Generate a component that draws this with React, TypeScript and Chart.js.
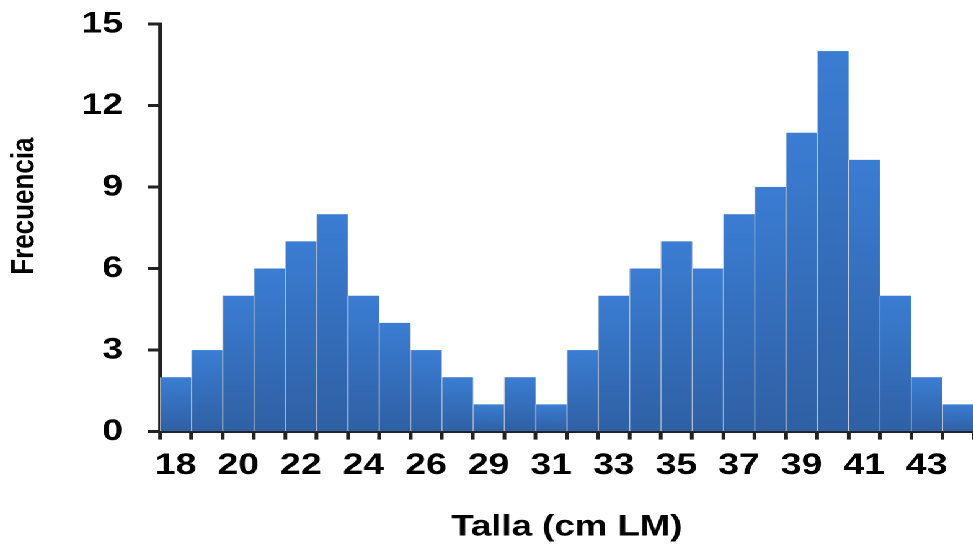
import React, { useEffect, useRef } from "react";
import { Chart, registerables } from "chart.js";

Chart.register(...registerables);

const categories = ["18","19","20","21","22","23","24","25","26","27","29","30","31","32","33","34","35","36","37","38","39","40","41","42","43","44"];
const frequencies = [2,3,5,6,7,8,5,4,3,2,1,2,1,3,5,6,7,6,8,9,11,14,10,5,2,1];
const yTicks = [0, 3, 6, 9, 12, 15];
const xTitle = "Talla (cm LM)";
const yTitle = "Frecuencia";

const STRETCH = 1.24;
const LOGICAL_W = 973 / STRETCH;
const FONT = "'Liberation Sans', Arial, sans-serif";

export default function App() {
  const ref = useRef<HTMLCanvasElement | null>(null);

  useEffect(() => {
    if (!ref.current) return;
    const shadowPlugin = {
      id: "barShadow",
      beforeDatasetsDraw(chart: any) {
        const ctx = chart.ctx;
        ctx.save();
        ctx.shadowColor = "rgba(0,0,0,0.22)";
        ctx.shadowBlur = 6;
        ctx.shadowOffsetX = 2;
        ctx.shadowOffsetY = 0;
      },
      afterDatasetsDraw(chart: any) {
        chart.ctx.restore();
      },
    };
    const chart = new Chart(ref.current, {
      type: "bar",
      data: {
        labels: categories,
        datasets: [
          {
            data: frequencies,
            backgroundColor: (c: any) => {
              const ch = c.chart;
              const area = ch.chartArea;
              if (!area || c.type !== "data") return "#3672c2";
              const y = ch.scales.y;
              const top = y.getPixelForValue(c.parsed.y);
              const bottom = y.getPixelForValue(0);
              if (!isFinite(top) || !isFinite(bottom) || bottom - top < 1) return "#3672c2";
              const g = ch.ctx.createLinearGradient(0, top, 0, bottom);
              g.addColorStop(0, "#3b7dd3");
              g.addColorStop(1, "#2f60a4");
              return g;
            },
            borderColor: "#d4d8de",
            borderWidth: { left: 0.8, right: 0, top: 0, bottom: 0 },
            borderSkipped: false,
            barPercentage: 1,
            categoryPercentage: 1,
          },
        ],
      },
      options: {
        animation: false,
        responsive: true,
        maintainAspectRatio: false,
        devicePixelRatio: 2,
        layout: { padding: { top: 0, right: 0, bottom: 0, left: 0 } },
        plugins: { legend: { display: false }, tooltip: { enabled: false } },
        scales: {
          x: {
            grid: {
              drawOnChartArea: false,
              drawTicks: true,
              tickLength: 8,
              tickWidth: 3,
              tickColor: "#222",
            },
            border: { display: true, color: "#222", width: 3 },
            ticks: {
              autoSkip: false,
              maxRotation: 0,
              padding: 8,
              color: "#000",
              font: { family: FONT, size: 30, weight: "bold" },
              callback: (_v: any, i: number) => (i % 2 === 0 ? categories[i] : ""),
            },
            title: {
              display: true,
              text: xTitle,
              color: "#000",
              font: { family: FONT, size: 29.5, weight: "bold" },
              padding: { top: 18, bottom: 0 },
            },
          },
          y: {
            min: 0,
            max: 15,
            afterBuildTicks: (axis: any) => {
              axis.ticks = yTicks.map((v) => ({ value: v }));
            },
            afterFit: (axis: any) => {
              axis.width = 129;
              axis.paddingTop = 24;
              axis.paddingBottom = 0;
            },
            grid: {
              drawOnChartArea: false,
              tickLength: 10,
              tickWidth: 3,
              tickColor: "#222",
            },
            border: { display: true, color: "#222", width: 3 },
            ticks: {
              padding: 20,
              color: "#000",
              font: { family: FONT, size: 30, weight: "bold" },
            },
            title: {
              display: true,
              text: "      " + yTitle,
              color: "#000",
              font: { family: FONT, size: 26, weight: "bold" },
              padding: { top: 4, bottom: 4 },
            },
          },
        },
      },
      plugins: [shadowPlugin],
    } as any);
    return () => chart.destroy();
  }, []);

  return (
    <div
      style={{
        position: "fixed",
        left: 0,
        top: 0,
        width: LOGICAL_W + "px",
        height: "545px",
        transform: `scaleX(${STRETCH})`,
        transformOrigin: "0 0",
        background: "#fff",
      }}
    >
      <canvas ref={ref} />
    </div>
  );
}
